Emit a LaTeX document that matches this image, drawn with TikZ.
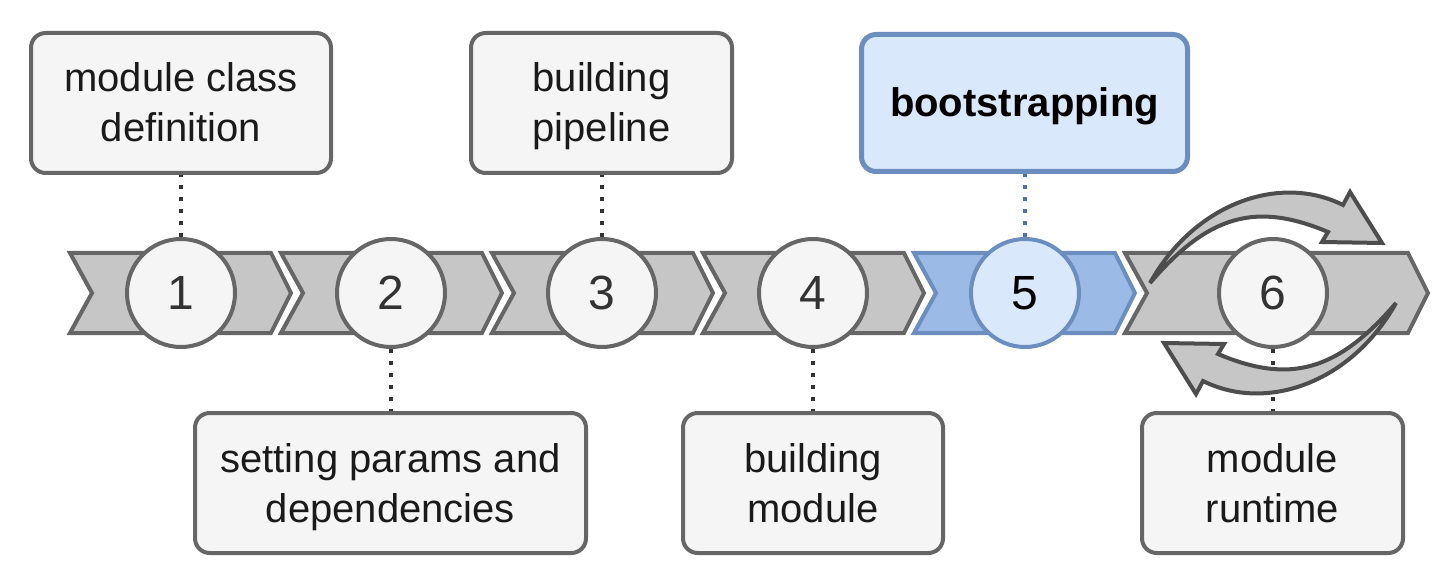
\documentclass[tikz,border=0pt]{standalone}
\usepackage{fontspec}
\setmainfont{Liberation Sans}
\definecolor{gstroke}{HTML}{666666}
\definecolor{gfill}{HTML}{F5F5F5}
\definecolor{chfill}{HTML}{C6C6C6}
\definecolor{bstroke}{HTML}{6C8EBF}
\definecolor{bfill}{HTML}{DAE8FC}
\definecolor{bchfill}{HTML}{9BBAE6}
\definecolor{txt}{HTML}{1A1A1A}
\definecolor{dotc}{HTML}{333333}
\definecolor{bdot}{HTML}{55739F}
\definecolor{arrstroke}{HTML}{4D4D4D}
\newcommand\lstrut{\rule[-8.25pt]{0pt}{37.5pt}}
\begin{document}
\begin{tikzpicture}[x=0.75pt,y=-0.75pt,
  chev/.style={draw=gstroke, fill=chfill, line width=3pt, line join=miter},
  bchev/.style={draw=bstroke, fill=bchfill, line width=3pt, line join=miter},
  circ/.style={circle, minimum size=81pt, inner sep=0pt, draw=gstroke, fill=gfill, line width=3pt, text=dotc, font=\fontsize{36}{36}\selectfont},
  bcirc/.style={circ, draw=bstroke, fill=bfill, text=black},
  box/.style={rectangle, rounded corners=11pt, draw=gstroke, fill=gfill, line width=3pt, text=txt, align=center, inner sep=0pt, minimum height=105pt, font=\fontsize{30}{37.5}\selectfont},
  bbox/.style={box, draw=bstroke, fill=bfill, text=black, line width=3.75pt, minimum height=102.75pt, font=\fontsize{30}{37.5}\selectfont\bfseries},
  dotline/.style={draw=dotc, line width=3pt, dash pattern=on 3pt off 6pt},
  bdotline/.style={dotline, draw=bdot},
  carrow/.style={draw=arrstroke, fill=chfill, line width=3pt, line join=miter}
]
\useasboundingbox (0,0) rectangle (1454,588);

% chevrons
\foreach \L in {70,281,492,703} {
  \draw[chev] (\L,253) -- (\L+201,253) -- (\L+221,293) -- (\L+201,333) -- (\L,333) -- (\L+22,293) -- cycle;
}
\draw[bchev] (914,253) -- (1115,253) -- (1135,293) -- (1115,333) -- (914,333) -- (936,293) -- cycle;
\draw[chev] (1125,253) -- (1408,253) -- (1428,293) -- (1408,333) -- (1125,333) -- (1147,293) -- cycle;

% circles
\node[circ] (c1) at (181,293) {1};
\node[circ] (c2) at (391,293) {2};
\node[circ] (c3) at (602,293) {3};
\node[circ] (c4) at (813,293) {4};
\node[bcirc] (c5) at (1025,293) {5};
\node[circ] (c6) at (1273,293) {6};

% boxes
\node[box, minimum width=225pt] (b1) at (181,103) {module class\lstrut\\definition\lstrut};
\node[box, minimum width=195.75pt] (b3) at (601.5,103) {building\lstrut\\pipeline\lstrut};
\node[bbox, minimum width=244.5pt] (b5) at (1024.5,103) {bootstrapping\lstrut};
\node[box, minimum width=293.25pt] (b2) at (390.5,483) {setting params and\lstrut\\dependencies\lstrut};
\node[box, minimum width=195pt] (b4) at (813,483) {building\lstrut\\module\lstrut};
\node[box, minimum width=195.75pt] (b6) at (1272.5,483) {module\lstrut\\runtime\lstrut};

% connectors
\draw[dotline] (c1.north) -- (c1.north |- b1.south);
\draw[dotline] (c3.north) -- (c3.north |- b3.south);
\draw[bdotline] (c5.north) -- (c5.north |- b5.south);
\draw[dotline] (c2.south) -- (c2.south |- b2.north);
\draw[dotline] (c4.south) -- (c4.south |- b4.north);
\draw[dotline] (c6.south) -- (c6.south |- b6.north);

% cycle arrows
\draw[carrow] (1150,283) .. controls (1194,204) and (1279,173) .. (1343,205) -- (1350,192) -- (1382,243) -- (1322,242) -- (1328,232) .. controls (1257,202) and (1209,214) .. (1150,283) -- cycle;
\draw[carrow, rotate around={180:(1273,293)}] (1150,283) .. controls (1194,204) and (1279,173) .. (1343,205) -- (1350,192) -- (1382,243) -- (1322,242) -- (1328,232) .. controls (1257,202) and (1209,214) .. (1150,283) -- cycle;
\end{tikzpicture}
\end{document}
